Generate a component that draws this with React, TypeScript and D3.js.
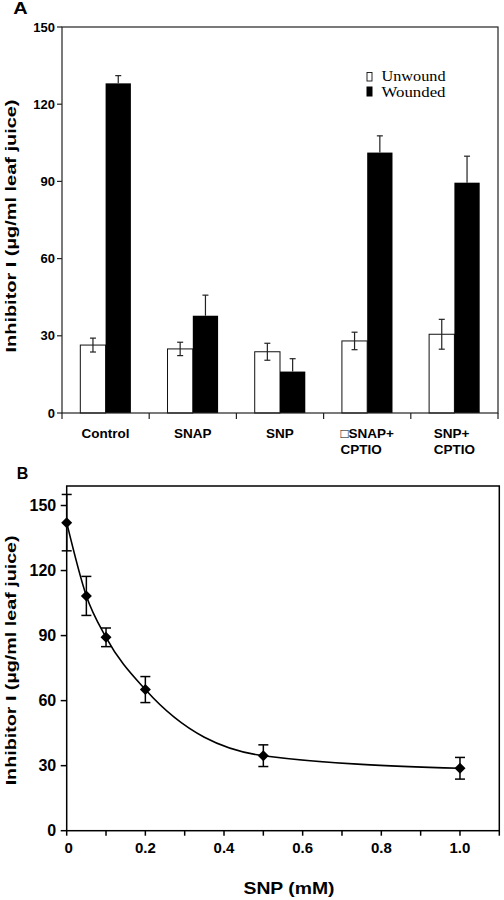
import React from "react";
import * as d3 from "d3";

// ---------- Panel A data ----------
const categoryLines: string[][] = [
  ["Control"],
  ["SNAP"],
  ["SNP"],
  ["\u25A1SNAP+", "CPTIO"],
  ["SNP+", "CPTIO"],
];
const unwound = [26.4, 24.9, 23.8, 28.0, 30.6];
const unwoundErr = [2.7, 2.6, 3.3, 3.4, 5.8];
const wounded = [128.1, 37.8, 16.1, 101.2, 89.5];
const woundedErr = [3.0, 8.0, 5.0, 6.5, 10.3];
const yTicksA = [0, 30, 60, 90, 120, 150];
const legendLabels = ["Unwound", "Wounded"];

// ---------- Panel B data ----------
const snpConc = [0, 0.05, 0.1, 0.2, 0.5, 1.0];
const inhibitorB = [142.1, 108.3, 89.2, 65.1, 34.6, 28.8];
const inhibitorBErr = [13, 9, 4.3, 6, 5, 5];
const yTicksB = [0, 30, 60, 90, 120, 150];
const xLabelTicksB = [0, 0.2, 0.4, 0.6, 0.8, 1.0];
const xMinorTicksB = [0, 0.1, 0.2, 0.3, 0.4, 0.5, 0.6, 0.7, 0.8, 0.9, 1.0, 1.1];

const yLabel = "Inhibitor I (\u00B5g/ml leaf juice)";
const SANS = "'Liberation Sans', Arial, sans-serif";
const SERIF = "'Liberation Serif', 'Times New Roman', serif";

function measure(text: string, font: string): number {
  const c = document.createElement("canvas").getContext("2d");
  if (!c) return text.length * 8;
  c.font = font;
  return c.measureText(text).width;
}

export default function App() {
  // ---- Panel A geometry ----
  const aLeft = 62, aRight = 498, aTop = 27, aBottom = 413;
  const xA = d3
    .scaleBand<number>()
    .domain(d3.range(categoryLines.length))
    .range([aLeft, aRight])
    .paddingInner(0)
    .paddingOuter(0);
  const yA = d3.scaleLinear().domain([0, 150]).range([aBottom, aTop]);
  const bw = xA.bandwidth() * 0.29;
  const capA = 3;

  // ---- Panel B geometry ----
  const bLeft = 66.7, bRight = 499.3, bTop = 486, bBottom = 830.7;
  const xB = d3.scaleLinear().domain([0, 1.1]).range([bLeft, bRight]);
  const yB = d3.scaleLinear().domain([0, 159]).range([bBottom, bTop]);
  const pts: [number, number][] = snpConc.map((c, i) => [c, inhibitorB[i]]);
  const line = d3
    .line<[number, number]>()
    .x((d) => xB(d[0]))
    .y((d) => yB(d[1]))
    .curve(d3.curveMonotoneX);
  const capB = 5;
  const r = 5.5;

  const catFont = `bold 13.5px ${SANS}`;

  return (
    <svg
      width={504}
      height={900}
      style={{ position: "absolute", left: 0, top: 0, background: "#fff" }}
      fontFamily={SANS}
    >
      <rect x={0} y={0} width={504} height={900} fill="#fff" />

      {/* ===================== Panel A ===================== */}
      <text x={13.3} y={14} fontSize={17} fontWeight="bold" textLength={14.4} lengthAdjust="spacingAndGlyphs">
        A
      </text>

      {/* bars */}
      {categoryLines.map((_, i) => {
        const cx = (xA(i) as number) + xA.bandwidth() / 2;
        return (
          <g key={"bar" + i}>
            <rect
              x={cx - bw}
              y={yA(unwound[i])}
              width={bw}
              height={aBottom - yA(unwound[i])}
              fill="#fff"
              stroke="#111"
              strokeWidth={1}
            />
            <rect
              x={cx}
              y={yA(wounded[i])}
              width={bw}
              height={aBottom - yA(wounded[i])}
              fill="#000"
            />
            {/* unwound error bar */}
            <g stroke="#222" strokeWidth={1.2}>
              <line x1={cx - bw / 2} x2={cx - bw / 2} y1={yA(unwound[i] - unwoundErr[i])} y2={yA(unwound[i] + unwoundErr[i])} />
              <line x1={cx - bw / 2 - capA} x2={cx - bw / 2 + capA} y1={yA(unwound[i] + unwoundErr[i])} y2={yA(unwound[i] + unwoundErr[i])} />
              <line x1={cx - bw / 2 - capA} x2={cx - bw / 2 + capA} y1={yA(unwound[i] - unwoundErr[i])} y2={yA(unwound[i] - unwoundErr[i])} />
              {/* wounded error bar (upper half visible) */}
              <line x1={cx + bw / 2} x2={cx + bw / 2} y1={yA(wounded[i])} y2={yA(wounded[i] + woundedErr[i])} />
              <line x1={cx + bw / 2 - capA} x2={cx + bw / 2 + capA} y1={yA(wounded[i] + woundedErr[i])} y2={yA(wounded[i] + woundedErr[i])} />
            </g>
          </g>
        );
      })}

      {/* frame */}
      <rect x={aLeft} y={aTop} width={aRight - aLeft} height={aBottom - aTop} fill="none" stroke="#222" strokeWidth={1.2} />

      {/* y ticks A */}
      {yTicksA.map((t) => (
        <g key={"ya" + t}>
          <line x1={aLeft - 5} x2={aLeft} y1={yA(t)} y2={yA(t)} stroke="#222" strokeWidth={1.2} />
          <text x={aLeft - 7} y={yA(t)} dy="0.35em" textAnchor="end" fontSize={13} fontWeight="bold">
            {t}
          </text>
        </g>
      ))}

      {/* x ticks A at band boundaries */}
      {d3.range(categoryLines.length + 1).map((i) => {
        const x = aLeft + i * xA.step();
        return <line key={"xa" + i} x1={x} x2={x} y1={aBottom} y2={aBottom + 6} stroke="#222" strokeWidth={1.2} />;
      })}

      {/* category labels */}
      {categoryLines.map((lines, i) => {
        const cx = (xA(i) as number) + xA.bandwidth() / 2;
        if (lines.length === 1) {
          return (
            <text key={"cat" + i} x={cx} y={437.7} textAnchor="middle" fontSize={13.5} fontWeight="bold">
              {lines[0]}
            </text>
          );
        }
        const wmax = Math.max(...lines.map((l) => measure(l, catFont)));
        return (
          <g key={"cat" + i}>
            {lines.map((l, j) => (
              <text key={j} x={cx - wmax / 2} y={437.7 + j * 16.6} textAnchor="start" fontSize={13.5} fontWeight="bold">
                {l}
              </text>
            ))}
          </g>
        );
      })}

      {/* legend */}
      <rect x={367} y={72.5} width={5} height={8.5} fill="#fff" stroke="#111" strokeWidth={0.9} />
      <rect x={366.5} y={86.5} width={6} height={10} fill="#000" />
      <text x={381.5} y={80.7} fontFamily={SERIF} fontSize={15} textLength={64} lengthAdjust="spacingAndGlyphs">
        {legendLabels[0]}
      </text>
      <text x={381.5} y={96.7} fontFamily={SERIF} fontSize={15} textLength={64} lengthAdjust="spacingAndGlyphs">
        {legendLabels[1]}
      </text>

      {/* y label A */}
      <text
        transform={`translate(16,${(aTop + aBottom) / 2 + 6}) rotate(-90)`}
        textAnchor="middle"
        fontSize={14.5}
        fontWeight="bold"
        textLength={253}
        lengthAdjust="spacingAndGlyphs"
      >
        {yLabel}
      </text>

      {/* ===================== Panel B ===================== */}
      <text x={16.7} y={479.3} fontSize={16} fontWeight="bold">
        B
      </text>

      {/* frame */}
      <rect x={bLeft} y={bTop} width={bRight - bLeft} height={bBottom - bTop} fill="none" stroke="#000" strokeWidth={1.5} />

      {/* y ticks B */}
      {yTicksB.map((t) => (
        <g key={"yb" + t}>
          <line x1={bLeft - 6} x2={bLeft} y1={yB(t)} y2={yB(t)} stroke="#000" strokeWidth={1.5} />
          <text x={bLeft - 10.5} y={yB(t)} dy="0.36em" textAnchor="end" fontSize={16} fontWeight="bold">
            {t}
          </text>
        </g>
      ))}

      {/* x ticks B */}
      {xMinorTicksB.map((t) => (
        <line key={"xb" + t} x1={xB(t)} x2={xB(t)} y1={bBottom} y2={bBottom + 5} stroke="#000" strokeWidth={1.5} />
      ))}
      {xLabelTicksB.map((t) => (
        <text key={"xbl" + t} x={xB(t) + (t === 0 ? 2 : 0)} y={853.3} textAnchor="middle" fontSize={15} fontWeight="bold">
          {t === 0 ? "0" : d3.format(".1f")(t)}
        </text>
      ))}

      {/* curve */}
      <path d={line(pts) || ""} fill="none" stroke="#000" strokeWidth={1.6} />

      {/* error bars B */}
      {pts.map(([c, v], i) => {
        const x = xB(c);
        const hi = yB(v + inhibitorBErr[i]);
        const lo = yB(v - inhibitorBErr[i]);
        return (
          <g key={"eb" + i} stroke="#000" strokeWidth={1.5}>
            <line x1={x} x2={x} y1={hi} y2={lo} />
            <line x1={x - capB} x2={x + capB} y1={hi} y2={hi} />
            <line x1={x - capB} x2={x + capB} y1={lo} y2={lo} />
          </g>
        );
      })}

      {/* diamonds */}
      {pts.map(([c, v], i) => {
        const x = xB(c);
        const y = yB(v);
        return <path key={"pt" + i} d={`M${x},${y - r}L${x + r},${y}L${x},${y + r}L${x - r},${y}Z`} fill="#000" />;
      })}

      {/* x label B */}
      <text
        x={(bLeft + bRight) / 2 + 6}
        y={893.5}
        textAnchor="middle"
        fontSize={17}
        fontWeight="bold"
        textLength={91}
        lengthAdjust="spacingAndGlyphs"
      >
        SNP (mM)
      </text>

      {/* y label B */}
      <text
        transform={`translate(16,${(bTop + bBottom) / 2 + 2}) rotate(-90)`}
        textAnchor="middle"
        fontSize={14.5}
        fontWeight="bold"
        textLength={250}
        lengthAdjust="spacingAndGlyphs"
      >
        {yLabel}
      </text>
    </svg>
  );
}
